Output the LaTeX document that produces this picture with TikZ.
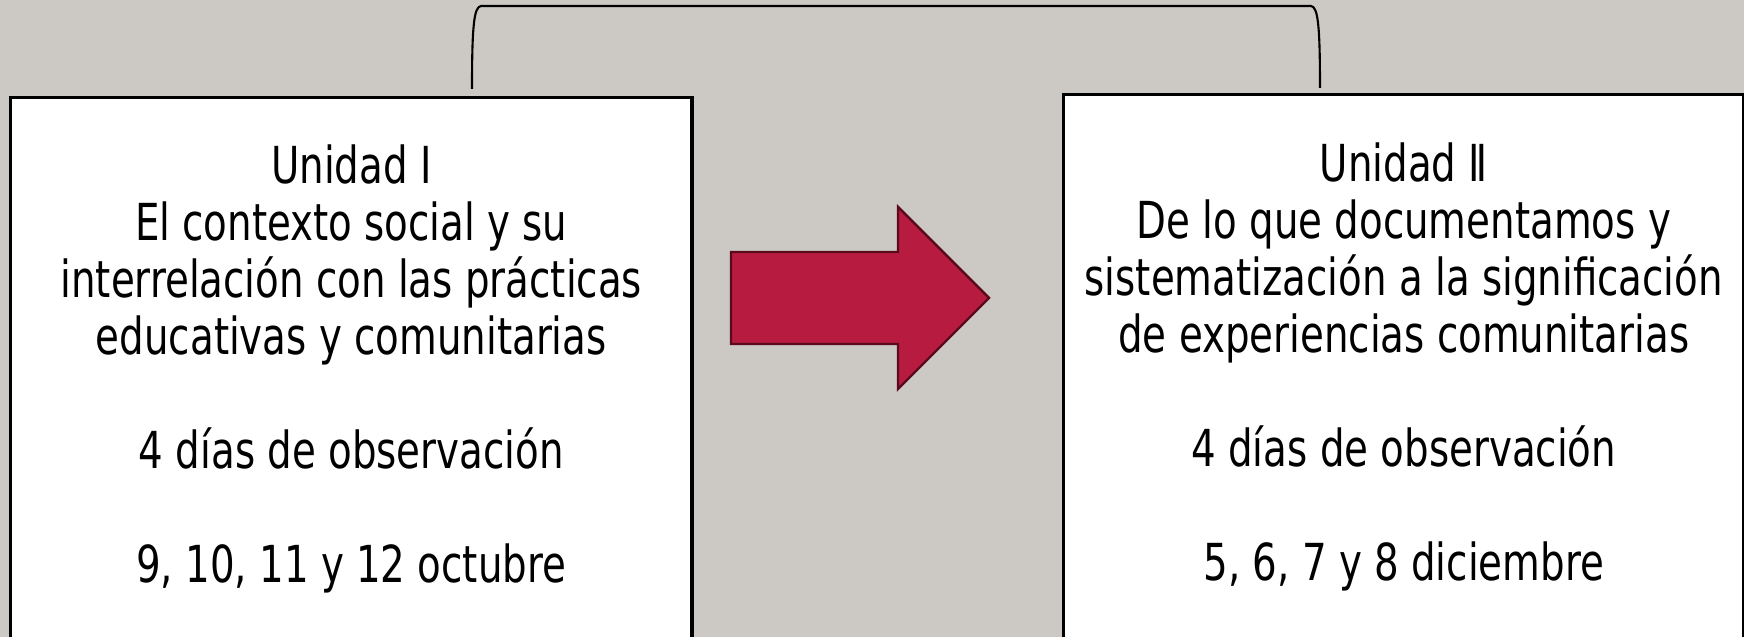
\documentclass[tikz,border=0pt]{standalone}
\usepackage{fontspec}
\setmainfont{DejaVu Sans}[FakeStretch=0.76]
\definecolor{fondo}{HTML}{CCC8C3}
\definecolor{flecharoja}{HTML}{B71C40}
\definecolor{flechaborde}{HTML}{5A0A1C}
\begin{document}
\begin{tikzpicture}[x=0.01cm,y=-0.01cm,
    unidad/.style={draw=black, line width=0.9pt, fill=white, anchor=north west,
      align=center, inner sep=0pt, font=\fontsize{14.5}{16.2}\selectfont},
    flecha/.style={draw=flechaborde, fill=flecharoja, line width=0.7pt, line join=miter},
    corchete/.style={draw=black, line width=0.6pt}]

    % Background
    \fill[fondo] (0,0) rectangle (1744,637);
    \useasboundingbox (0,0) rectangle (1744,637);

    % First unit
    \node[unidad, minimum width=6.81cm, minimum height=5.42cm] (unidad1) at (9,96)
      {Unidad Ⅰ\\ El contexto social y su\\ interrelación con las prácticas\\
       educativas y comunitarias\\[16.2pt] 4 días de observación\\[16.2pt]
       9, 10, 11 y 12 octubre};

    % Second unit
    \node[unidad, minimum width=6.80cm, minimum height=5.45cm] (unidad2) at (1062,93)
      {Unidad Ⅱ\\ De lo que documentamos y\\ sistematización a la significación\\
       de experiencias comunitarias\\[16.2pt] 4 días de observación\\[16.2pt]
       5, 6, 7 y 8 diciembre};

    % Arrow between the units
    \draw[flecha] (731,252) -- (898,252) -- (898,207) -- (989,298)
      -- (898,389) -- (898,344) -- (731,344) -- cycle;

    % Bracket over both units
    \coordinate (izq) at (472,89);
    \coordinate (der) at (1320,88);
    \draw[corchete] (izq) .. controls (472,25) and (474,7) .. (481,6)
      -- (1311,6) .. controls (1318,7) and (1320,25) .. (der);
\end{tikzpicture}
\end{document}
